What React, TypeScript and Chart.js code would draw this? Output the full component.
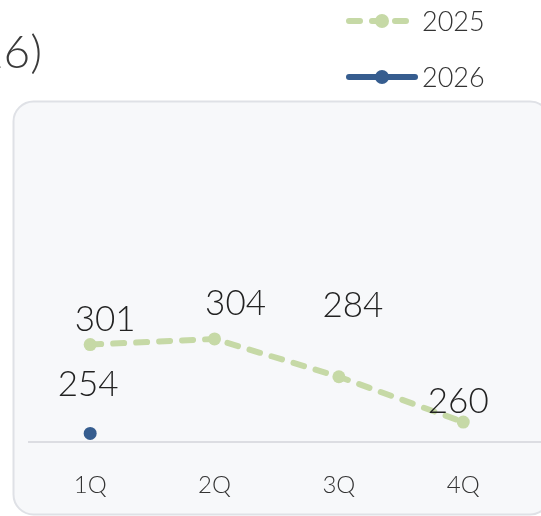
import React, { useEffect, useRef } from "react";
import { Chart, registerables } from "chart.js";

Chart.register(...registerables);

const titleText = "Quarterly Volume (2025–2026)";
const quarters = ["1Q", "2Q", "3Q", "4Q"];
const values2025 = [301, 304, 284, 260];
const values2026 = [254];
const seriesNames = ["2025", "2026"];
const colors = ["#c6d9a6", "#365d8f"];

const FONT = "Lato, 'Open Sans', sans-serif";

// label offsets (dx, dy) relative to each point, styling only
const labelOffsets = [
  [[15, -14], [21, -24], [14, -60], [-5, -9]],
  [[-2, -37]],
];

const decorPlugin = {
  id: "decor",
  beforeDraw(chart: any) {
    const { ctx } = chart;
    ctx.save();
    // panel
    ctx.beginPath();
    ctx.roundRect(13.5, 101.5, 536.5, 413, 20);
    ctx.fillStyle = "#f7f8fa";
    ctx.fill();
    ctx.lineWidth = 2;
    ctx.strokeStyle = "#dfe1e6";
    ctx.stroke();
    // x axis baseline, running to the panel edge
    const xs = chart.scales.x;
    ctx.beginPath();
    ctx.lineWidth = 2;
    ctx.strokeStyle = "#dcdde2";
    ctx.moveTo(xs.left, xs.top + 1);
    ctx.lineTo(chart.width, xs.top + 1);
    ctx.stroke();
    // title
    ctx.fillStyle = "#3a3a3a";
    ctx.font = `300 46px ${FONT}`;
    ctx.textAlign = "right";
    ctx.textBaseline = "alphabetic";
    ctx.fillText(titleText, 42, 68);
    // legend
    const items = chart.data.datasets;
    const ys = [21, 77];
    items.forEach((ds: any, i: number) => {
      const y = ys[i];
      const x0 = 349;
      const x1 = i === 0 ? 409 : 415;
      ctx.beginPath();
      ctx.setLineDash(ds.borderDash || []);
      ctx.lineCap = "round";
      ctx.lineWidth = 6;
      ctx.strokeStyle = ds.borderColor;
      ctx.moveTo(x0, y);
      ctx.lineTo(x1, y);
      ctx.stroke();
      ctx.setLineDash([]);
      ctx.beginPath();
      ctx.arc(382, y, 7, 0, Math.PI * 2);
      ctx.fillStyle = ds.borderColor;
      ctx.fill();
      ctx.fillStyle = "#333";
      ctx.font = `300 27px ${FONT}`;
      ctx.textAlign = "left";
      ctx.textBaseline = "middle";
      ctx.fillText(ds.label, 422, y + 1);
    });
    ctx.restore();
  },
  afterDatasetsDraw(chart: any) {
    const { ctx } = chart;
    ctx.save();
    ctx.fillStyle = "#222";
    ctx.font = `300 35px ${FONT}`;
    ctx.textAlign = "center";
    ctx.textBaseline = "alphabetic";
    chart.data.datasets.forEach((ds: any, di: number) => {
      const meta = chart.getDatasetMeta(di);
      meta.data.forEach((pt: any, i: number) => {
        const v = ds.data[i].y;
        const [dx, dy] = labelOffsets[di][i];
        ctx.fillText(String(v), pt.x + dx, pt.y + dy);
      });
    });
    ctx.restore();
  },
};

export default function App() {
  const ref = useRef<HTMLCanvasElement>(null);
  useEffect(() => {
    const chart = new Chart(ref.current!, {
      type: "line",
      data: {
        datasets: [
          {
            label: seriesNames[0],
            data: values2025.map((v, i) => ({ x: i, y: v })),
            borderColor: colors[0],
            backgroundColor: colors[0],
            borderWidth: 6,
            borderDash: [11, 12],
            borderCapStyle: "round",
            pointRadius: 6.5,
            pointBorderWidth: 0,
            tension: 0,
          },
          {
            label: seriesNames[1],
            data: values2026.map((v, i) => ({ x: i, y: v })),
            borderColor: colors[1],
            backgroundColor: colors[1],
            borderWidth: 6,
            pointRadius: 6.5,
            pointBorderWidth: 0,
            tension: 0,
          },
        ],
      },
      options: {
        animation: false,
        responsive: true,
        maintainAspectRatio: false,
        layout: { padding: { left: 28, right: 0, top: 252, bottom: 16 } },
        plugins: { legend: { display: false }, tooltip: { enabled: false } },
        scales: {
          x: {
            type: "linear",
            min: -0.5,
            max: 3.573,
            grid: { display: false, drawTicks: false },
            border: { display: false },
            afterBuildTicks: (scale: any) => {
              scale.ticks = quarters.map((_, i) => ({ value: i }));
            },
            afterFit: (scale: any) => {
              scale.height = 59;
              scale.paddingLeft = 0;
              scale.paddingRight = 0;
            },
            ticks: {
              autoSkip: false,
              maxRotation: 0,
              minRotation: 0,
              padding: 30,
              color: "#333",
              font: { family: FONT, size: 24, weight: "300" as any },
              callback: (v: any) => quarters[v] ?? "",
            },
          },
          y: {
            display: false,
            min: 250,
            max: 350,
          },
        },
      },
      plugins: [decorPlugin],
    });
    return () => chart.destroy();
  }, []);
  return (
    <div style={{ position: "fixed", left: 0, top: 0, width: 541, height: 516 }}>
      <canvas ref={ref} />
    </div>
  );
}
